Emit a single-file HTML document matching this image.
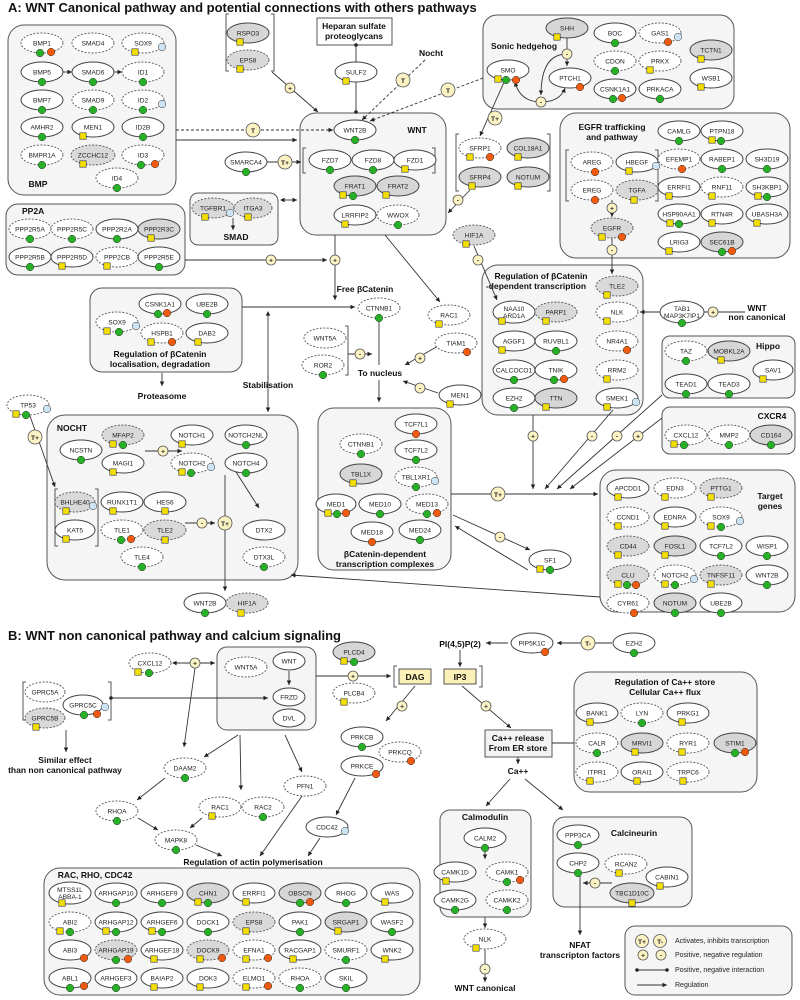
<!DOCTYPE html><html><head><meta charset="utf-8"><style>
body{margin:0;background:#fff}
svg{display:block;font-family:"Liberation Sans",sans-serif}
.s{fill:#fff;stroke:#444;stroke-width:1}
.d{fill:#fff;stroke:#555;stroke-width:.9;stroke-dasharray:2 1.5}
.g{fill:#d6d6d6;stroke:#444;stroke-width:1}
.gd{fill:#d9d9d9;stroke:#555;stroke-width:.9;stroke-dasharray:2 1.5}
text{font-size:6.6px;text-anchor:middle;fill:#222}
.bx{fill:#f5f5f5;stroke:#555;stroke-width:1}
.lb{font-size:8.5px;font-weight:bold;fill:#111}
.tt{font-size:13px;font-weight:bold;text-anchor:start;fill:#111}
.ln{stroke:#333;stroke-width:.9;fill:none}
.dl{stroke:#333;stroke-width:.9;fill:none;stroke-dasharray:3 2}
.br{stroke:#555;stroke-width:1;fill:none}
.sg{fill:#fcf3c4;stroke:#555;stroke-width:.8}
.sgt{font-size:7px;font-weight:bold}
</style></head><body>
<svg width="800" height="1000" viewBox="0 0 800 1000" xmlns="http://www.w3.org/2000/svg">
<defs>
<marker id="a" markerWidth="6" markerHeight="6" refX="5" refY="3" orient="auto"><path d="M0,0.5L5,3L0,5.5z" fill="#222"/></marker>
<marker id="a0" markerWidth="6" markerHeight="6" refX="1" refY="3" orient="auto"><path d="M5,0.5L0,3L5,5.5z" fill="#222"/></marker>
<marker id="dt" markerWidth="5" markerHeight="5" refX="2.5" refY="2.5"><circle cx="2.5" cy="2.5" r="2" fill="#222"/></marker>
<rect id="q" x="-3.2" y="-3.2" width="6.4" height="6.4" fill="#f3e000" stroke="#333" stroke-width=".6"/>
<circle id="G" r="3.8" fill="#25b025" stroke="#333" stroke-width=".5"/>
<circle id="O" r="3.8" fill="#f05a10" stroke="#333" stroke-width=".5"/>
<circle id="B" r="3.8" fill="#cde4f5" stroke="#333" stroke-width=".5"/>
</defs>

<text class="tt" x="8" y="12">A: WNT Canonical pathway and potential connections with others pathways</text>
<text class="tt" x="8" y="640">B: WNT non canonical pathway and calcium signaling</text>

<!-- Boxes A -->
<rect class="bx" x="8" y="25" width="168" height="170" rx="16"/>
<rect class="bx" x="6" y="204" width="179" height="71" rx="12"/>
<rect class="bx" x="190" y="193" width="88" height="52" rx="8"/>
<rect class="bx" x="300" y="113" width="146" height="122" rx="16"/>
<rect class="bx" x="483" y="15" width="251" height="94" rx="14"/>
<rect class="bx" x="560" y="113" width="230" height="145" rx="16"/>
<rect class="bx" x="482" y="265" width="161" height="150" rx="16"/>
<rect class="bx" x="90" y="288" width="152" height="84" rx="12"/>
<rect class="bx" x="47" y="415" width="251" height="165" rx="18"/>
<rect class="bx" x="318" y="408" width="133" height="162" rx="16"/>
<rect class="bx" x="662" y="336" width="133" height="62" rx="8"/>
<rect class="bx" x="662" y="407" width="133" height="47" rx="8"/>
<rect class="bx" x="600" y="470" width="195" height="142" rx="16"/>
<rect x="317" y="18" width="75" height="27" fill="#fff" stroke="#555"/>
<text class="lb" x="354" y="29">Heparan sulfate</text><text class="lb" x="354" y="39">proteoglycans</text>

<!-- Boxes B -->
<rect class="bx" x="217" y="647" width="99" height="83" rx="10"/>
<rect class="bx" x="44" y="868" width="376" height="127" rx="16"/>
<rect class="bx" x="574" y="672" width="183" height="120" rx="16"/>
<rect class="bx" x="440" y="810" width="91" height="107" rx="10"/>
<rect class="bx" x="553" y="817" width="139" height="90" rx="12"/>
<rect class="bx" x="625" y="926" width="167" height="69" rx="10"/>
<rect x="485" y="730" width="67" height="27" fill="#f3f3f3" stroke="#555"/>
<text class="lb" x="518" y="741">Ca++ release</text><text class="lb" x="518" y="751">From ER store</text>
<rect x="399" y="669" width="32" height="15" fill="#fbf0b8" stroke="#555"/><text class="lb" x="415" y="680">DAG</text>
<rect x="444" y="669" width="32" height="15" fill="#fbf0b8" stroke="#555"/><text class="lb" x="460" y="680">IP3</text>

<!-- Brackets -->
<path class="br" d="M229,14h-3v57h3M271,14h3v57h-3"/>
<path class="br" d="M306,148h-3v25h3M432,148h3v25h-3"/>
<path class="br" d="M459,134h-3v57h3M547,134h3v57h-3"/>
<path class="br" d="M569,150h-3v51h3M655,150h3v51h-3"/>
<path class="br" d="M345,326h3v49h-3"/>
<path class="br" d="M58,489h-3v57h3M95,489h3v57h-3"/>
<path class="br" d="M26,682h-3v38h3M108,682h3v38h-3"/>
<path class="br" d="M397,666h-3v21h3M479,666h3v21h-3"/>

<!-- Labels -->
<text class="lb" x="38" y="187">BMP</text>
<text class="lb" x="22" y="214" style="text-anchor:start">PP2A</text>
<text class="lb" x="236" y="240">SMAD</text>
<text class="lb" x="417" y="133">WNT</text>
<text class="lb" x="524" y="49">Sonic hedgehog</text>
<text class="lb" x="431" y="56">Nocht</text>
<text class="lb" x="612" y="130">EGFR trafficking</text><text class="lb" x="612" y="140">and pathway</text>
<text class="lb" x="541" y="279">Regulation of βCatenin</text><text class="lb" x="536" y="289">-dependent transcription</text>
<text class="lb" x="757" y="311">WNT</text><text class="lb" x="757" y="320">non canonical</text>
<text class="lb" x="768" y="349">Hippo</text>
<text class="lb" x="772" y="419">CXCR4</text>
<text class="lb" x="770" y="499">Target</text><text class="lb" x="770" y="509">genes</text>
<text class="lb" x="365" y="292">Free βCatenin</text>
<text class="lb" x="380" y="376">To nucleus</text>
<text class="lb" x="160" y="357">Regulation of βCatenin</text><text class="lb" x="160" y="367">localisation, degradation</text>
<text class="lb" x="162" y="399">Proteasome</text>
<text class="lb" x="268" y="388">Stabilisation</text>
<text class="lb" x="72" y="431">NOCHT</text>
<text class="lb" x="385" y="557">βCatenin-dependent</text><text class="lb" x="385" y="567">transcription complexes</text>
<text class="lb" x="65" y="763">Similar effect</text><text class="lb" x="65" y="773">than non canonical pathway</text>
<text class="lb" x="253" y="865">Regulation of actin polymerisation</text>
<text class="lb" x="95" y="878">RAC, RHO, CDC42</text>
<text class="lb" x="460" y="647">PI(4,5)P(2)</text>
<text class="lb" x="518" y="774">Ca++</text>
<text class="lb" x="665" y="685">Regulation of Ca++ store</text><text class="lb" x="665" y="695">Cellular Ca++ flux</text>
<text class="lb" x="485" y="820">Calmodulin</text>
<text class="lb" x="634" y="836">Calcineurin</text>
<text class="lb" x="485" y="991">WNT canonical</text>
<text class="lb" x="580" y="948">NFAT</text><text class="lb" x="580" y="958">transcripton factors</text>

<!-- Connectors A -->
<line class="ln" x1="176" y1="140" x2="297" y2="140" marker-end="url(#a)"/>
<line class="dl" x1="176" y1="130" x2="333" y2="130" marker-end="url(#a)"/>
<line class="ln" x1="62" y1="72" x2="72" y2="72" marker-end="url(#a)"/>
<line class="ln" x1="113" y1="72" x2="122" y2="72" marker-end="url(#a)"/>
<line class="ln" x1="272" y1="72" x2="318" y2="112" marker-end="url(#a)"/>
<line class="ln" x1="356" y1="45" x2="356" y2="112" marker-start="url(#dt)" marker-end="url(#dt)"/>
<line class="dl" x1="425" y1="60" x2="362" y2="120" marker-end="url(#a)"/>
<line class="dl" x1="483" y1="78" x2="370" y2="121" marker-end="url(#a)"/>
<line class="ln" x1="267" y1="162" x2="301" y2="162" marker-end="url(#a)"/>
<line class="ln" x1="505" y1="80" x2="480" y2="136" marker-end="url(#a)"/>
<line class="ln" x1="470" y1="190" x2="448" y2="213" marker-end="url(#a)"/>
<line class="ln" x1="281" y1="200" x2="297" y2="200" marker-start="url(#a0)" marker-end="url(#a)"/>
<line class="ln" x1="185" y1="260" x2="327" y2="260" marker-end="url(#a)"/>
<line class="ln" x1="335" y1="235" x2="335" y2="300" marker-end="url(#a)"/>
<line class="ln" x1="242" y1="307" x2="355" y2="307" marker-end="url(#a)"/>
<line class="ln" x1="385" y1="235" x2="440" y2="302" marker-end="url(#a)"/>
<line class="ln" x1="379" y1="318" x2="379" y2="365"/>
<line class="ln" x1="379" y1="380" x2="379" y2="402" marker-end="url(#a)"/>
<line class="ln" x1="348" y1="354" x2="372" y2="354" marker-end="url(#a)"/>
<line class="ln" x1="438" y1="346" x2="405" y2="365" marker-end="url(#a)"/>
<line class="ln" x1="438" y1="393" x2="403" y2="381" marker-end="url(#a)"/>
<line class="ln" x1="474" y1="246" x2="497" y2="300" marker-end="url(#a)"/>
<line class="ln" x1="612" y1="238" x2="612" y2="274" marker-end="url(#a)"/>
<line class="ln" x1="745" y1="312" x2="640" y2="312" marker-end="url(#a)"/>
<line class="ln" x1="533" y1="415" x2="533" y2="489" marker-end="url(#a)"/>
<line class="ln" x1="613" y1="410" x2="545" y2="489" marker-end="url(#a)"/>
<line class="ln" x1="662" y1="395" x2="557" y2="489" marker-end="url(#a)"/>
<line class="ln" x1="662" y1="418" x2="570" y2="489" marker-end="url(#a)"/>
<line class="ln" x1="451" y1="494" x2="598" y2="494" marker-end="url(#a)"/>
<line class="ln" x1="453" y1="515" x2="530" y2="550" marker-end="url(#a)"/>
<line class="ln" x1="528" y1="570" x2="455" y2="526" marker-end="url(#a)"/>
<line class="ln" x1="600" y1="597" x2="291" y2="575" marker-end="url(#a)"/>
<line class="ln" x1="162" y1="373" x2="162" y2="386" marker-end="url(#a)"/>
<line class="ln" x1="268" y1="312" x2="268" y2="412" marker-start="url(#a0)" marker-end="url(#a)"/>
<line class="ln" x1="30" y1="416" x2="55" y2="487" marker-end="url(#a)"/>
<line class="ln" x1="145" y1="451" x2="182" y2="451" marker-end="url(#a)"/>
<line class="ln" x1="225" y1="475" x2="225" y2="591" marker-end="url(#a)"/>
<line class="ln" x1="185" y1="523" x2="215" y2="523" marker-end="url(#a)"/>
<line class="ln" x1="236" y1="472" x2="259" y2="508" marker-end="url(#a)"/>
<line class="ln" x1="567" y1="38" x2="567" y2="66" marker-end="url(#a)"/>
<path class="ln" d="M541,102 Q520,102 515,82" marker-end="url(#a)"/>
<path class="ln" d="M541,102 Q560,102 565,88" marker-end="url(#a)"/>
<path class="ln" d="M567,54 Q541,54 541,95" marker-end="url(#a)"/>
<line class="ln" x1="612" y1="200" x2="612" y2="217" marker-end="url(#a)"/>
<line class="ln" x1="233" y1="218" x2="233" y2="230" marker-end="url(#a)"/>

<!-- Connectors B -->
<line class="ln" x1="173" y1="663" x2="215" y2="663" marker-start="url(#a0)" marker-end="url(#a)"/>
<line class="ln" x1="195" y1="668" x2="184" y2="747" marker-end="url(#a)"/>
<line class="ln" x1="111" y1="698" x2="268" y2="698" marker-start="url(#dt)" marker-end="url(#a)"/>
<line class="ln" x1="66" y1="730" x2="66" y2="752" marker-end="url(#a)"/>
<line class="ln" x1="238" y1="735" x2="204" y2="757" marker-end="url(#a)"/>
<line class="ln" x1="240" y1="735" x2="241" y2="790" marker-end="url(#a)"/>
<line class="ln" x1="285" y1="735" x2="302" y2="772" marker-end="url(#a)"/>
<line class="ln" x1="165" y1="778" x2="137" y2="800" marker-end="url(#a)"/>
<line class="ln" x1="138" y1="818" x2="158" y2="830" marker-end="url(#a)"/>
<line class="ln" x1="202" y1="818" x2="190" y2="828" marker-end="url(#a)"/>
<line class="ln" x1="196" y1="845" x2="222" y2="856" marker-end="url(#a)"/>
<line class="ln" x1="302" y1="796" x2="260" y2="856" marker-end="url(#a)"/>
<line class="ln" x1="320" y1="838" x2="308" y2="856" marker-end="url(#a)"/>
<line class="ln" x1="316" y1="676" x2="391" y2="676" marker-end="url(#a)"/>
<line class="ln" x1="415" y1="686" x2="386" y2="721" marker-end="url(#a)"/>
<line class="ln" x1="355" y1="778" x2="336" y2="815" marker-end="url(#a)"/>
<line class="ln" x1="612" y1="643" x2="557" y2="643" marker-end="url(#a)"/>
<line class="ln" x1="508" y1="643" x2="486" y2="643" marker-end="url(#a)"/>
<line class="ln" x1="460" y1="650" x2="460" y2="667" marker-end="url(#a)"/>
<line class="ln" x1="462" y1="686" x2="511" y2="728" marker-end="url(#a)"/>
<line class="ln" x1="552" y1="743" x2="574" y2="743"/>
<line class="ln" x1="518" y1="757" x2="518" y2="764" marker-end="url(#a)"/>
<line class="ln" x1="510" y1="779" x2="486" y2="806" marker-end="url(#a)"/>
<line class="ln" x1="525" y1="779" x2="563" y2="810" marker-end="url(#a)"/>
<line class="ln" x1="485" y1="849" x2="485" y2="859" marker-end="url(#a)"/>
<line class="ln" x1="485" y1="917" x2="485" y2="928" marker-end="url(#a)"/>
<line class="ln" x1="485" y1="949" x2="485" y2="982" marker-end="url(#a)"/>
<line class="ln" x1="580" y1="873" x2="580" y2="935" marker-end="url(#a)"/>
<line class="ln" x1="612" y1="883" x2="583" y2="883" marker-end="url(#a)"/>
<line class="ln" x1="289" y1="671" x2="289" y2="685" marker-end="url(#a)"/>

<!-- Signs -->
<g class="sgt">
<circle class="sg" cx="253" cy="130" r="7"/><text x="253" y="133">T</text>
<circle class="sg" cx="403" cy="80" r="7"/><text x="403" y="83">T</text>
<circle class="sg" cx="448" cy="90" r="7"/><text x="448" y="93">T</text>
<circle class="sg" cx="285" cy="162" r="7"/><text x="285" y="165">T+</text>
<circle class="sg" cx="495" cy="118" r="7"/><text x="495" y="121">T+</text>
<circle class="sg" cx="498" cy="494" r="7"/><text x="498" y="497">T+</text>
<circle class="sg" cx="35" cy="437" r="7"/><text x="35" y="440">T+</text>
<circle class="sg" cx="225" cy="523" r="7"/><text x="225" y="526">T+</text>
<circle class="sg" cx="588" cy="643" r="7"/><text x="588" y="646">T-</text>
<circle class="sg" cx="290" cy="88" r="5"/><text x="290" y="90.5">+</text>
<circle class="sg" cx="567" cy="54" r="5"/><text x="567" y="56.5">-</text>
<circle class="sg" cx="541" cy="102" r="5"/><text x="541" y="104.5">-</text>
<circle class="sg" cx="458" cy="200" r="5"/><text x="458" y="202.5">-</text>
<circle class="sg" cx="478" cy="260" r="5"/><text x="478" y="262.5">-</text>
<circle class="sg" cx="612" cy="208" r="5"/><text x="612" y="210.5">+</text>
<circle class="sg" cx="612" cy="250" r="5"/><text x="612" y="252.5">-</text>
<circle class="sg" cx="271" cy="260" r="5"/><text x="271" y="262.5">+</text>
<circle class="sg" cx="335" cy="260" r="5"/><text x="335" y="262.5">+</text>
<circle class="sg" cx="360" cy="354" r="5"/><text x="360" y="356.5">-</text>
<circle class="sg" cx="420" cy="358" r="5"/><text x="420" y="360.5">+</text>
<circle class="sg" cx="420" cy="388" r="5"/><text x="420" y="390.5">-</text>
<circle class="sg" cx="713" cy="312" r="5"/><text x="713" y="314.5">+</text>
<circle class="sg" cx="533" cy="436" r="5"/><text x="533" y="438.5">+</text>
<circle class="sg" cx="592" cy="436" r="5"/><text x="592" y="438.5">-</text>
<circle class="sg" cx="617" cy="436" r="5"/><text x="617" y="438.5">-</text>
<circle class="sg" cx="638" cy="436" r="5"/><text x="638" y="438.5">+</text>
<circle class="sg" cx="500" cy="537" r="5"/><text x="500" y="539.5">-</text>
<circle class="sg" cx="163" cy="451" r="5"/><text x="163" y="453.5">+</text>
<circle class="sg" cx="202" cy="523" r="5"/><text x="202" y="525.5">-</text>
<circle class="sg" cx="195" cy="663" r="5"/><text x="195" y="665.5">+</text>
<circle class="sg" cx="353" cy="676" r="5"/><text x="353" y="678.5">+</text>
<circle class="sg" cx="402" cy="706" r="5"/><text x="402" y="708.5">+</text>
<circle class="sg" cx="486" cy="706" r="5"/><text x="486" y="708.5">+</text>
<circle class="sg" cx="485" cy="969" r="5"/><text x="485" y="971.5">-</text>
<circle class="sg" cx="595" cy="883" r="5"/><text x="595" y="885.5">-</text>
</g>

<!-- Nodes A -->
<g transform="translate(42,43)"><ellipse class="d" rx="21" ry="10"/><text y="2.5">BMP1</text><use href="#G" x="-2" y="10"/><use href="#O" x="9" y="9"/></g>
<g transform="translate(93,43)"><ellipse class="d" rx="21" ry="10"/><text y="2.5">SMAD4</text></g>
<g transform="translate(143,43)"><ellipse class="d" rx="21" ry="10"/><text y="2.5">SOX9</text><use href="#q" x="-8" y="9"/><use href="#B" x="19" y="4"/></g>
<g transform="translate(42,72)"><ellipse class="s" rx="21" ry="10"/><text y="2.5">BMP5</text><use href="#G" y="10"/></g>
<g transform="translate(93,72)"><ellipse class="s" rx="21" ry="10"/><text y="2.5">SMAD6</text><use href="#G" y="10"/></g>
<g transform="translate(143,72)"><ellipse class="d" rx="21" ry="10"/><text y="2.5">ID1</text><use href="#G" y="10"/></g>
<g transform="translate(42,100)"><ellipse class="s" rx="21" ry="10"/><text y="2.5">BMP7</text><use href="#G" y="10"/></g>
<g transform="translate(93,100)"><ellipse class="d" rx="21" ry="10"/><text y="2.5">SMAD9</text><use href="#G" y="10"/></g>
<g transform="translate(143,100)"><ellipse class="d" rx="21" ry="10"/><text y="2.5">ID2</text><use href="#G" y="10"/><use href="#B" x="19" y="4"/></g>
<g transform="translate(42,127)"><ellipse class="s" rx="21" ry="10"/><text y="2.5">AMHR2</text><use href="#G" y="10"/></g>
<g transform="translate(93,127)"><ellipse class="s" rx="21" ry="10"/><text y="2.5">MEN1</text><use href="#q" x="-10" y="9"/></g>
<g transform="translate(143,127)"><ellipse class="s" rx="21" ry="10"/><text y="2.5">ID2B</text><use href="#G" y="10"/></g>
<g transform="translate(42,155)"><ellipse class="d" rx="21" ry="10"/><text y="2.5">BMPR1A</text><use href="#G" y="10"/></g>
<g transform="translate(93,155)"><ellipse class="gd" rx="22" ry="10"/><text y="2.5">ZCCHC12</text><use href="#q" x="-10" y="9"/></g>
<g transform="translate(143,155)"><ellipse class="d" rx="21" ry="10"/><text y="2.5">ID3</text><use href="#G" x="-2" y="10"/><use href="#O" x="12" y="9"/></g>
<g transform="translate(117,178)"><ellipse class="d" rx="21" ry="10"/><text y="2.5">ID4</text><use href="#G" y="10"/></g>

<g transform="translate(30,229)"><ellipse class="d" rx="21" ry="10"/><text y="2.5">PPP2R5A</text><use href="#G" y="10"/></g>
<g transform="translate(72,229)"><ellipse class="d" rx="21" ry="10"/><text y="2.5">PPP2R5C</text><use href="#G" y="10"/></g>
<g transform="translate(117,229)"><ellipse class="s" rx="21" ry="10"/><text y="2.5">PPP2R2A</text><use href="#G" y="10"/></g>
<g transform="translate(159,229)"><ellipse class="g" rx="21" ry="10"/><text y="2.5">PPP2R3C</text><use href="#q" x="-8" y="9"/></g>
<g transform="translate(30,257)"><ellipse class="s" rx="21" ry="10"/><text y="2.5">PPP2R5B</text><use href="#G" y="10"/></g>
<g transform="translate(72,257)"><ellipse class="s" rx="21" ry="10"/><text y="2.5">PPP2R5D</text><use href="#q" x="-10" y="9"/></g>
<g transform="translate(117,257)"><ellipse class="d" rx="21" ry="10"/><text y="2.5">PPP2CB</text><use href="#q" x="-10" y="9"/></g>
<g transform="translate(159,257)"><ellipse class="s" rx="21" ry="10"/><text y="2.5">PPP2R5E</text><use href="#G" y="10"/></g>

<g transform="translate(248,33)"><ellipse class="g" rx="21" ry="10"/><text y="2.5">RSPO3</text><use href="#q" x="-8" y="9"/></g>
<g transform="translate(248,60)"><ellipse class="gd" rx="21" ry="10"/><text y="2.5">EPS8</text><use href="#q" x="-8" y="9"/></g>
<g transform="translate(356,72)"><ellipse class="s" rx="21" ry="10"/><text y="2.5">SULF2</text><use href="#q" x="-10" y="9"/></g>
<g transform="translate(355,130)"><ellipse class="s" rx="21" ry="10"/><text y="2.5">WNT2B</text><use href="#G" y="10"/></g>
<g transform="translate(246,162)"><ellipse class="s" rx="21" ry="10"/><text y="2.5">SMARCA4</text><use href="#G" y="10"/></g>
<g transform="translate(330,160)"><ellipse class="s" rx="21" ry="10"/><text y="2.5">FZD7</text><use href="#G" y="10"/></g>
<g transform="translate(373,160)"><ellipse class="s" rx="21" ry="10"/><text y="2.5">FZD8</text><use href="#G" y="10"/></g>
<g transform="translate(415,160)"><ellipse class="s" rx="21" ry="10"/><text y="2.5">FZD1</text><use href="#q" x="-10" y="9"/></g>
<g transform="translate(355,186)"><ellipse class="g" rx="21" ry="10"/><text y="2.5">FRAT1</text><use href="#q" x="-12" y="9"/><use href="#G" x="-2" y="10"/></g>
<g transform="translate(398,186)"><ellipse class="g" rx="21" ry="10"/><text y="2.5">FRAT2</text><use href="#q" x="-12" y="9"/></g>
<g transform="translate(355,215)"><ellipse class="s" rx="21" ry="10"/><text y="2.5">LRRFIP2</text><use href="#q" x="-10" y="9"/></g>
<g transform="translate(398,215)"><ellipse class="d" rx="21" ry="10"/><text y="2.5">WWOX</text><use href="#G" y="10"/></g>
<g transform="translate(213,208)"><ellipse class="gd" rx="21" ry="10"/><text y="2.5">TGFBR1</text><use href="#q" x="-8" y="9"/><use href="#B" x="17" y="5"/></g>
<g transform="translate(253,208)"><ellipse class="gd" rx="19" ry="10"/><text y="2.5">ITGA3</text><use href="#q" x="-5" y="9"/></g>

<g transform="translate(567,28)"><ellipse class="g" rx="21" ry="10"/><text y="2.5">SHH</text><use href="#q" x="-10" y="9"/></g>
<g transform="translate(508,70)"><ellipse class="s" rx="21" ry="10"/><text y="2.5">SMO</text><use href="#q" x="-10" y="9"/><use href="#G" x="-2" y="10"/><use href="#O" x="8" y="10"/></g>
<g transform="translate(570,78)"><ellipse class="s" rx="21" ry="10"/><text y="2.5">PTCH1</text><use href="#O" x="10" y="9"/></g>
<g transform="translate(615,33)"><ellipse class="s" rx="21" ry="10"/><text y="2.5">BOC</text><use href="#G" y="10"/></g>
<g transform="translate(660,33)"><ellipse class="d" rx="21" ry="10"/><text y="2.5">GAS1</text><use href="#O" x="8" y="9"/><use href="#B" x="18" y="4"/></g>
<g transform="translate(711,50)"><ellipse class="g" rx="21" ry="10"/><text y="2.5">TCTN1</text><use href="#q" x="-10" y="9"/></g>
<g transform="translate(615,61)"><ellipse class="d" rx="21" ry="10"/><text y="2.5">CDON</text><use href="#G" y="10"/></g>
<g transform="translate(660,61)"><ellipse class="d" rx="21" ry="10"/><text y="2.5">PRKX</text><use href="#q" x="-10" y="9"/></g>
<g transform="translate(711,78)"><ellipse class="s" rx="21" ry="10"/><text y="2.5">WSB1</text><use href="#q" x="-10" y="9"/></g>
<g transform="translate(615,89)"><ellipse class="s" rx="21" ry="10"/><text y="2.5">CSNK1A1</text><use href="#G" x="-2" y="10"/><use href="#O" x="7" y="9"/></g>
<g transform="translate(660,89)"><ellipse class="s" rx="21" ry="10"/><text y="2.5">PRKACA</text><use href="#G" y="10"/></g>

<g transform="translate(480,148)"><ellipse class="d" rx="21" ry="10"/><text y="2.5">SFRP1</text><use href="#q" x="-10" y="9"/><use href="#O" x="10" y="9"/></g>
<g transform="translate(528,148)"><ellipse class="g" rx="21" ry="10"/><text y="2.5">COL18A1</text><use href="#q" x="-10" y="9"/></g>
<g transform="translate(480,177)"><ellipse class="g" rx="21" ry="10"/><text y="2.5">SFRP4</text><use href="#q" x="-8" y="9"/></g>
<g transform="translate(528,177)"><ellipse class="g" rx="21" ry="10"/><text y="2.5">NOTUM</text><use href="#q" x="-10" y="9"/></g>
<g transform="translate(474,235)"><ellipse class="gd" rx="21" ry="10"/><text y="2.5">HIF1A</text><use href="#q" x="-8" y="9"/></g>

<g transform="translate(592,162)"><ellipse class="d" rx="21" ry="10"/><text y="2.5">AREG</text><use href="#O" x="3" y="10"/></g>
<g transform="translate(637,162)"><ellipse class="s" rx="21" ry="10"/><text y="2.5">HBEGF</text><use href="#q" x="-8" y="9"/><use href="#B" x="19" y="4"/></g>
<g transform="translate(592,190)"><ellipse class="d" rx="21" ry="10"/><text y="2.5">EREG</text><use href="#O" x="3" y="10"/></g>
<g transform="translate(637,190)"><ellipse class="gd" rx="21" ry="10"/><text y="2.5">TGFA</text><use href="#q" x="-3" y="10"/></g>
<g transform="translate(612,228)"><ellipse class="gd" rx="21" ry="10"/><text y="2.5">EGFR</text><use href="#q" x="-10" y="9"/><use href="#O" x="10" y="9"/></g>
<g transform="translate(679,131)"><ellipse class="s" rx="21" ry="10"/><text y="2.5">CAMLG</text><use href="#G" y="10"/></g>
<g transform="translate(722,131)"><ellipse class="s" rx="21" ry="10"/><text y="2.5">PTPN18</text><use href="#q" x="-10" y="9"/><use href="#G" x="-1" y="10"/></g>
<g transform="translate(679,159)"><ellipse class="d" rx="21" ry="10"/><text y="2.5">EFEMP1</text><use href="#O" x="3" y="10"/></g>
<g transform="translate(722,159)"><ellipse class="s" rx="21" ry="10"/><text y="2.5">RABEP1</text><use href="#G" y="10"/></g>
<g transform="translate(767,159)"><ellipse class="s" rx="21" ry="10"/><text y="2.5">SH3D19</text><use href="#G" y="10"/></g>
<g transform="translate(679,187)"><ellipse class="s" rx="21" ry="10"/><text y="2.5">ERRFI1</text><use href="#q" x="-10" y="9"/></g>
<g transform="translate(722,187)"><ellipse class="d" rx="21" ry="10"/><text y="2.5">RNF11</text><use href="#q" x="-10" y="9"/></g>
<g transform="translate(767,187)"><ellipse class="s" rx="21" ry="10"/><text y="2.5">SH3KBP1</text><use href="#q" x="-9" y="9"/><use href="#G" x="0" y="10"/></g>
<g transform="translate(679,214)"><ellipse class="s" rx="21" ry="10"/><text y="2.5">HSP90AA1</text><use href="#q" x="-9" y="9"/><use href="#G" x="0" y="10"/></g>
<g transform="translate(722,214)"><ellipse class="s" rx="21" ry="10"/><text y="2.5">RTN4R</text><use href="#q" x="-10" y="9"/></g>
<g transform="translate(767,214)"><ellipse class="s" rx="21" ry="10"/><text y="2.5">UBASH3A</text><use href="#q" x="-10" y="9"/></g>
<g transform="translate(679,242)"><ellipse class="s" rx="21" ry="10"/><text y="2.5">LRIG3</text><use href="#q" x="-10" y="9"/></g>
<g transform="translate(722,242)"><ellipse class="g" rx="21" ry="10"/><text y="2.5">SEC61B</text><use href="#G" x="0" y="10"/><use href="#O" x="10" y="9"/></g>

<g transform="translate(617,286)"><ellipse class="gd" rx="21" ry="10"/><text y="2.5">TLE2</text><use href="#q" x="-10" y="9"/></g>
<g transform="translate(514,312)"><ellipse class="s" rx="21" ry="11"/><text y="-1">NAA10</text><text y="6">ARD1A</text><use href="#q" x="-12" y="9"/></g>
<g transform="translate(556,312)"><ellipse class="gd" rx="21" ry="10"/><text y="2.5">PARP1</text><use href="#q" x="-10" y="9"/></g>
<g transform="translate(617,312)"><ellipse class="d" rx="21" ry="10"/><text y="2.5">NLK</text><use href="#q" x="-10" y="9"/></g>
<g transform="translate(514,341)"><ellipse class="s" rx="21" ry="10"/><text y="2.5">AGGF1</text><use href="#q" x="-12" y="9"/></g>
<g transform="translate(556,341)"><ellipse class="s" rx="21" ry="10"/><text y="2.5">RUVBL1</text><use href="#G" y="10"/></g>
<g transform="translate(617,341)"><ellipse class="d" rx="21" ry="10"/><text y="2.5">NR4A1</text><use href="#O" x="10" y="9"/></g>
<g transform="translate(514,370)"><ellipse class="s" rx="21" ry="10"/><text y="2.5">CALCOCO1</text><use href="#G" y="10"/></g>
<g transform="translate(556,370)"><ellipse class="s" rx="21" ry="10"/><text y="2.5">TNIK</text><use href="#G" x="-2" y="10"/><use href="#O" x="8" y="9"/></g>
<g transform="translate(617,370)"><ellipse class="d" rx="21" ry="10"/><text y="2.5">RRM2</text><use href="#q" x="-10" y="9"/></g>
<g transform="translate(514,398)"><ellipse class="s" rx="21" ry="10"/><text y="2.5">EZH2</text><use href="#G" y="10"/></g>
<g transform="translate(556,398)"><ellipse class="g" rx="21" ry="10"/><text y="2.5">TTN</text><use href="#q" x="-10" y="9"/></g>
<g transform="translate(617,398)"><ellipse class="s" rx="21" ry="10"/><text y="2.5">SMEK1</text><use href="#q" x="-10" y="9"/><use href="#B" x="19" y="4"/></g>
<g transform="translate(682,312)"><ellipse class="s" rx="22" ry="11"/><text y="-1">TAB1</text><text y="6">MAP3K7IP1</text><use href="#G" y="11"/></g>

<g transform="translate(449,315)"><ellipse class="d" rx="21" ry="10"/><text y="2.5">RAC1</text><use href="#q" x="-10" y="9"/></g>
<g transform="translate(456,343)"><ellipse class="d" rx="21" ry="10"/><text y="2.5">TIAM1</text><use href="#O" x="11" y="9"/></g>
<g transform="translate(460,395)"><ellipse class="s" rx="21" ry="10"/><text y="2.5">MEN1</text><use href="#q" x="-10" y="9"/></g>
<g transform="translate(379,308)"><ellipse class="d" rx="21" ry="10"/><text y="2.5">CTNNB1</text><use href="#G" y="10"/></g>
<g transform="translate(325,338)"><ellipse class="d" rx="21" ry="10"/><text y="2.5">WNT5A</text></g>
<g transform="translate(323,365)"><ellipse class="d" rx="21" ry="10"/><text y="2.5">ROR2</text><use href="#G" y="10"/></g>

<g transform="translate(686,351)"><ellipse class="d" rx="21" ry="10"/><text y="2.5">TAZ</text><use href="#G" y="10"/></g>
<g transform="translate(729,351)"><ellipse class="g" rx="21" ry="10"/><text y="2.5">MOBKL2A</text><use href="#q" x="-8" y="9"/></g>
<g transform="translate(773,370)"><ellipse class="s" rx="20" ry="10"/><text y="2.5">SAV1</text><use href="#q" x="-10" y="9"/></g>
<g transform="translate(686,384)"><ellipse class="s" rx="21" ry="10"/><text y="2.5">TEAD1</text><use href="#G" y="10"/></g>
<g transform="translate(729,384)"><ellipse class="s" rx="21" ry="10"/><text y="2.5">TEAD3</text><use href="#G" y="10"/></g>
<g transform="translate(686,435)"><ellipse class="d" rx="21" ry="10"/><text y="2.5">CXCL12</text><use href="#q" x="-12" y="9"/><use href="#G" x="-2" y="10"/></g>
<g transform="translate(729,435)"><ellipse class="d" rx="21" ry="10"/><text y="2.5">MMP2</text><use href="#G" y="10"/></g>
<g transform="translate(771,435)"><ellipse class="g" rx="21" ry="10"/><text y="2.5">CD164</text><use href="#G" y="10"/></g>

<g transform="translate(628,488)"><ellipse class="s" rx="21" ry="10"/><text y="2.5">APCDD1</text><use href="#q" x="-10" y="9"/></g>
<g transform="translate(675,488)"><ellipse class="d" rx="21" ry="10"/><text y="2.5">EDN3</text><use href="#q" x="-10" y="9"/></g>
<g transform="translate(721,488)"><ellipse class="gd" rx="21" ry="10"/><text y="2.5">PTTG1</text><use href="#q" x="-10" y="9"/></g>
<g transform="translate(628,517)"><ellipse class="d" rx="21" ry="10"/><text y="2.5">CCND1</text><use href="#q" x="-10" y="9"/></g>
<g transform="translate(675,517)"><ellipse class="s" rx="21" ry="10"/><text y="2.5">EDNRA</text><use href="#q" x="-10" y="9"/></g>
<g transform="translate(721,517)"><ellipse class="d" rx="21" ry="10"/><text y="2.5">SOX9</text><use href="#q" x="-10" y="9"/><use href="#G" x="0" y="10"/><use href="#B" x="19" y="4"/></g>
<g transform="translate(628,546)"><ellipse class="gd" rx="21" ry="10"/><text y="2.5">CD44</text><use href="#q" x="-10" y="9"/></g>
<g transform="translate(675,546)"><ellipse class="g" rx="21" ry="10"/><text y="2.5">FOSL1</text><use href="#q" x="-10" y="9"/></g>
<g transform="translate(721,546)"><ellipse class="s" rx="21" ry="10"/><text y="2.5">TCF7L2</text><use href="#G" y="10"/></g>
<g transform="translate(767,546)"><ellipse class="s" rx="21" ry="10"/><text y="2.5">WISP1</text><use href="#G" y="10"/></g>
<g transform="translate(628,575)"><ellipse class="gd" rx="21" ry="10"/><text y="2.5">CLU</text><use href="#q" x="-10" y="9"/><use href="#G" x="-1" y="10"/><use href="#O" x="8" y="10"/></g>
<g transform="translate(675,575)"><ellipse class="d" rx="21" ry="10"/><text y="2.5">NOTCH2</text><use href="#q" x="-10" y="9"/><use href="#G" x="0" y="10"/><use href="#B" x="19" y="4"/></g>
<g transform="translate(721,575)"><ellipse class="gd" rx="21" ry="10"/><text y="2.5">TNFSF11</text><use href="#q" x="-10" y="9"/></g>
<g transform="translate(767,575)"><ellipse class="s" rx="21" ry="10"/><text y="2.5">WNT2B</text><use href="#G" y="10"/></g>
<g transform="translate(628,603)"><ellipse class="d" rx="21" ry="10"/><text y="2.5">CYR61</text><use href="#O" x="6" y="10"/></g>
<g transform="translate(675,603)"><ellipse class="g" rx="21" ry="10"/><text y="2.5">NOTUM</text><use href="#G" y="10"/></g>
<g transform="translate(721,603)"><ellipse class="s" rx="21" ry="10"/><text y="2.5">UBE2B</text><use href="#G" y="10"/></g>
<g transform="translate(550,560)"><ellipse class="s" rx="21" ry="10"/><text y="2.5">SF1</text><use href="#q" x="-10" y="9"/><use href="#G" x="0" y="10"/></g>

<g transform="translate(361,444)"><ellipse class="d" rx="21" ry="10"/><text y="2.5">CTNNB1</text><use href="#G" y="10"/></g>
<g transform="translate(416,424)"><ellipse class="s" rx="21" ry="10"/><text y="2.5">TCF7L1</text><use href="#O" x="0" y="10"/></g>
<g transform="translate(416,450)"><ellipse class="s" rx="21" ry="10"/><text y="2.5">TCF7L2</text><use href="#G" y="10"/></g>
<g transform="translate(361,474)"><ellipse class="g" rx="21" ry="10"/><text y="2.5">TBL1X</text><use href="#q" x="-8" y="9"/></g>
<g transform="translate(416,477)"><ellipse class="d" rx="21" ry="10"/><text y="2.5">TBL1XR1</text><use href="#G" y="10"/><use href="#B" x="19" y="4"/></g>
<g transform="translate(336,504)"><ellipse class="s" rx="20" ry="10"/><text y="2.5">MED1</text><use href="#q" x="-8" y="9"/><use href="#G" x="1" y="10"/><use href="#O" x="10" y="9"/></g>
<g transform="translate(380,504)"><ellipse class="s" rx="21" ry="10"/><text y="2.5">MED10</text><use href="#G" y="10"/></g>
<g transform="translate(427,504)"><ellipse class="d" rx="21" ry="10"/><text y="2.5">MED13</text><use href="#G" x="0" y="10"/><use href="#O" x="10" y="9"/></g>
<g transform="translate(372,532)"><ellipse class="s" rx="21" ry="10"/><text y="2.5">MED18</text><use href="#O" y="10"/></g>
<g transform="translate(420,530)"><ellipse class="s" rx="21" ry="10"/><text y="2.5">MED24</text><use href="#G" y="10"/></g>

<g transform="translate(160,304)"><ellipse class="s" rx="21" ry="10"/><text y="2.5">CSNK1A1</text><use href="#G" x="-2" y="10"/><use href="#O" x="7" y="9"/></g>
<g transform="translate(207,304)"><ellipse class="s" rx="21" ry="10"/><text y="2.5">UBE2B</text><use href="#G" y="10"/></g>
<g transform="translate(117,322)"><ellipse class="d" rx="21" ry="10"/><text y="2.5">SOX9</text><use href="#q" x="-10" y="9"/><use href="#G" x="2" y="10"/><use href="#B" x="19" y="4"/></g>
<g transform="translate(162,333)"><ellipse class="d" rx="21" ry="10"/><text y="2.5">HSPB1</text><use href="#q" x="-11" y="9"/><use href="#O" x="10" y="9"/></g>
<g transform="translate(207,333)"><ellipse class="s" rx="21" ry="10"/><text y="2.5">DAB2</text><use href="#q" x="-9" y="9"/></g>

<g transform="translate(28,405)"><ellipse class="d" rx="21" ry="10"/><text y="2.5">TP53</text><use href="#q" x="-12" y="9"/><use href="#G" x="-2" y="10"/><use href="#B" x="19" y="4"/></g>
<g transform="translate(81,450)"><ellipse class="s" rx="21" ry="10"/><text y="2.5">NCSTN</text><use href="#G" y="10"/></g>
<g transform="translate(123,435)"><ellipse class="gd" rx="21" ry="10"/><text y="2.5">MFAP2</text><use href="#q" x="-10" y="9"/><use href="#G" x="0" y="10"/></g>
<g transform="translate(123,463)"><ellipse class="s" rx="21" ry="10"/><text y="2.5">MAGI1</text><use href="#q" x="-10" y="9"/></g>
<g transform="translate(192,435)"><ellipse class="s" rx="21" ry="10"/><text y="2.5">NOTCH1</text><use href="#q" x="-10" y="9"/></g>
<g transform="translate(246,435)"><ellipse class="s" rx="21" ry="10"/><text y="2.5">NOTCH2NL</text><use href="#G" y="10"/></g>
<g transform="translate(192,463)"><ellipse class="d" rx="21" ry="10"/><text y="2.5">NOTCH2</text><use href="#q" x="-10" y="9"/><use href="#G" x="-1" y="10"/><use href="#B" x="19" y="4"/></g>
<g transform="translate(246,463)"><ellipse class="s" rx="21" ry="10"/><text y="2.5">NOTCH4</text><use href="#G" y="10"/></g>
<g transform="translate(75,502)"><ellipse class="gd" rx="20" ry="10"/><text y="2.5">BHLHE40</text><use href="#q" x="-9" y="9"/><use href="#B" x="18" y="4"/></g>
<g transform="translate(75,530)"><ellipse class="s" rx="20" ry="10"/><text y="2.5">KAT5</text><use href="#q" x="-9" y="9"/></g>
<g transform="translate(122,502)"><ellipse class="s" rx="21" ry="10"/><text y="2.5">RUNX1T1</text><use href="#q" x="-9" y="9"/></g>
<g transform="translate(165,502)"><ellipse class="s" rx="21" ry="10"/><text y="2.5">HES6</text><use href="#q" x="0" y="9"/></g>
<g transform="translate(122,530)"><ellipse class="d" rx="21" ry="10"/><text y="2.5">TLE1</text><use href="#G" x="-1" y="10"/><use href="#O" x="9" y="9"/></g>
<g transform="translate(165,530)"><ellipse class="gd" rx="21" ry="10"/><text y="2.5">TLE2</text><use href="#q" x="0" y="10"/></g>
<g transform="translate(142,557)"><ellipse class="d" rx="21" ry="10"/><text y="2.5">TLE4</text><use href="#G" y="10"/></g>
<g transform="translate(264,530)"><ellipse class="s" rx="21" ry="10"/><text y="2.5">DTX2</text></g>
<g transform="translate(264,557)"><ellipse class="d" rx="21" ry="10"/><text y="2.5">DTX3L</text><use href="#G" y="10"/></g>
<g transform="translate(205,603)"><ellipse class="s" rx="21" ry="10"/><text y="2.5">WNT2B</text><use href="#G" y="10"/></g>
<g transform="translate(247,603)"><ellipse class="gd" rx="21" ry="10"/><text y="2.5">HIF1A</text><use href="#q" x="-6" y="10"/></g>

<!-- Nodes B -->
<g transform="translate(150,663)"><ellipse class="d" rx="21" ry="10"/><text y="2.5">CXCL12</text><use href="#q" x="-12" y="9"/><use href="#G" x="-1" y="10"/></g>
<g transform="translate(246,667)"><ellipse class="d" rx="21" ry="10"/><text y="2.5">WNT5A</text></g>
<g transform="translate(289,661)"><ellipse class="s" rx="16" ry="9"/><text y="2.5">WNT</text></g>
<g transform="translate(289,697)"><ellipse class="s" rx="16" ry="9"/><text y="2.5">FRZD</text></g>
<g transform="translate(289,718)"><ellipse class="s" rx="16" ry="9"/><text y="2.5">DVL</text></g>
<g transform="translate(45,692)"><ellipse class="d" rx="20" ry="10"/><text y="2.5">GPRC5A</text></g>
<g transform="translate(45,718)"><ellipse class="gd" rx="20" ry="10"/><text y="2.5">GPRC5B</text><use href="#q" x="-9" y="9"/></g>
<g transform="translate(83,705)"><ellipse class="s" rx="20" ry="10"/><text y="2.5">GPRC5C</text><use href="#G" x="1" y="10"/><use href="#O" x="14" y="9"/><use href="#B" x="22" y="2"/></g>
<g transform="translate(185,768)"><ellipse class="d" rx="21" ry="10"/><text y="2.5">DAAM2</text><use href="#G" y="10"/></g>
<g transform="translate(305,786)"><ellipse class="d" rx="21" ry="10"/><text y="2.5">PFN1</text></g>
<g transform="translate(117,811)"><ellipse class="d" rx="21" ry="10"/><text y="2.5">RHOA</text><use href="#G" y="10"/></g>
<g transform="translate(220,807)"><ellipse class="d" rx="21" ry="10"/><text y="2.5">RAC1</text><use href="#q" x="-8" y="9"/></g>
<g transform="translate(263,807)"><ellipse class="d" rx="21" ry="10"/><text y="2.5">RAC2</text><use href="#G" y="10"/></g>
<g transform="translate(176,840)"><ellipse class="d" rx="21" ry="10"/><text y="2.5">MAPK8</text><use href="#G" y="10"/></g>
<g transform="translate(354,652)"><ellipse class="g" rx="21" ry="10"/><text y="2.5">PLCD4</text><use href="#q" x="-10" y="9"/><use href="#G" x="0" y="10"/></g>
<g transform="translate(354,693)"><ellipse class="d" rx="21" ry="10"/><text y="2.5">PLCB4</text><use href="#q" x="-10" y="9"/></g>
<g transform="translate(362,737)"><ellipse class="s" rx="21" ry="10"/><text y="2.5">PRKCB</text><use href="#G" y="10"/></g>
<g transform="translate(400,752)"><ellipse class="d" rx="21" ry="10"/><text y="2.5">PRKCQ</text><use href="#O" x="11" y="9"/></g>
<g transform="translate(362,766)"><ellipse class="s" rx="21" ry="10"/><text y="2.5">PRKCE</text><use href="#O" x="14" y="8"/></g>
<g transform="translate(327,827)"><ellipse class="s" rx="21" ry="10"/><text y="2.5">CDC42</text><use href="#B" x="18" y="4"/></g>

<g transform="translate(70,893)"><ellipse class="s" rx="21" ry="11"/><text y="-1">MTSS1L</text><text y="6">ABBA-1</text><use href="#q" x="-8" y="10"/></g>
<g transform="translate(116,893)"><ellipse class="s" rx="21" ry="10"/><text y="2.5">ARHGAP10</text><use href="#G" y="10"/></g>
<g transform="translate(162,893)"><ellipse class="s" rx="21" ry="10"/><text y="2.5">ARHGEF9</text><use href="#G" y="10"/></g>
<g transform="translate(208,893)"><ellipse class="g" rx="21" ry="10"/><text y="2.5">CHN1</text><use href="#q" x="-10" y="9"/><use href="#G" x="0" y="10"/></g>
<g transform="translate(254,893)"><ellipse class="s" rx="21" ry="10"/><text y="2.5">ERRFI1</text><use href="#q" x="-8" y="9"/></g>
<g transform="translate(300,893)"><ellipse class="g" rx="21" ry="10"/><text y="2.5">OBSCN</text><use href="#G" x="0" y="10"/><use href="#O" x="10" y="9"/></g>
<g transform="translate(346,893)"><ellipse class="s" rx="21" ry="10"/><text y="2.5">RHOG</text><use href="#G" y="10"/></g>
<g transform="translate(392,893)"><ellipse class="s" rx="21" ry="10"/><text y="2.5">WAS</text><use href="#q" x="-7" y="9"/></g>
<g transform="translate(70,922)"><ellipse class="d" rx="21" ry="10"/><text y="2.5">ABI2</text><use href="#q" x="-10" y="9"/><use href="#G" x="0" y="10"/></g>
<g transform="translate(116,922)"><ellipse class="s" rx="21" ry="10"/><text y="2.5">ARHGAP12</text><use href="#q" x="-10" y="9"/><use href="#G" x="0" y="10"/></g>
<g transform="translate(162,922)"><ellipse class="s" rx="21" ry="10"/><text y="2.5">ARHGEF6</text><use href="#q" x="-10" y="9"/><use href="#G" x="0" y="10"/></g>
<g transform="translate(208,922)"><ellipse class="s" rx="21" ry="10"/><text y="2.5">DOCK1</text><use href="#G" y="10"/></g>
<g transform="translate(254,922)"><ellipse class="gd" rx="21" ry="10"/><text y="2.5">EPS8</text><use href="#q" x="-8" y="9"/></g>
<g transform="translate(300,922)"><ellipse class="s" rx="21" ry="10"/><text y="2.5">PAK1</text><use href="#G" y="10"/></g>
<g transform="translate(346,922)"><ellipse class="g" rx="21" ry="10"/><text y="2.5">SRGAP1</text><use href="#q" x="-8" y="9"/></g>
<g transform="translate(392,922)"><ellipse class="s" rx="21" ry="10"/><text y="2.5">WASF2</text><use href="#G" y="10"/></g>
<g transform="translate(70,950)"><ellipse class="s" rx="21" ry="10"/><text y="2.5">ABI3</text><use href="#O" x="14" y="8"/></g>
<g transform="translate(116,950)"><ellipse class="gd" rx="21" ry="10"/><text y="2.5">ARHGAP19</text><use href="#G" x="0" y="10"/><use href="#O" x="12" y="9"/></g>
<g transform="translate(162,950)"><ellipse class="s" rx="21" ry="10"/><text y="2.5">ARHGEF18</text><use href="#q" x="-8" y="9"/></g>
<g transform="translate(208,950)"><ellipse class="gd" rx="21" ry="10"/><text y="2.5">DOCK9</text><use href="#q" x="-8" y="9"/><use href="#O" x="14" y="8"/></g>
<g transform="translate(254,950)"><ellipse class="d" rx="21" ry="10"/><text y="2.5">EFNA1</text><use href="#q" x="-8" y="9"/><use href="#O" x="14" y="8"/></g>
<g transform="translate(300,950)"><ellipse class="s" rx="21" ry="10"/><text y="2.5">RACGAP1</text><use href="#q" x="-7" y="9"/></g>
<g transform="translate(346,950)"><ellipse class="d" rx="21" ry="10"/><text y="2.5">SMURF1</text><use href="#G" y="10"/></g>
<g transform="translate(392,950)"><ellipse class="s" rx="21" ry="10"/><text y="2.5">WNK2</text><use href="#q" x="-7" y="9"/></g>
<g transform="translate(70,978)"><ellipse class="s" rx="21" ry="10"/><text y="2.5">ABL1</text><use href="#G" x="0" y="10"/><use href="#O" x="14" y="8"/></g>
<g transform="translate(116,978)"><ellipse class="s" rx="21" ry="10"/><text y="2.5">ARHGEF3</text><use href="#G" y="10"/></g>
<g transform="translate(162,978)"><ellipse class="s" rx="21" ry="10"/><text y="2.5">BAIAP2</text><use href="#q" x="-8" y="9"/></g>
<g transform="translate(208,978)"><ellipse class="s" rx="21" ry="10"/><text y="2.5">DOK3</text><use href="#q" x="-8" y="9"/></g>
<g transform="translate(254,978)"><ellipse class="d" rx="21" ry="10"/><text y="2.5">ELMO1</text><use href="#q" x="-8" y="9"/><use href="#O" x="14" y="8"/></g>
<g transform="translate(300,978)"><ellipse class="d" rx="21" ry="10"/><text y="2.5">RHOA</text><use href="#G" y="10"/></g>
<g transform="translate(346,978)"><ellipse class="s" rx="21" ry="10"/><text y="2.5">SKIL</text><use href="#G" y="10"/></g>

<g transform="translate(532,643)"><ellipse class="s" rx="21" ry="10"/><text y="2.5">PIP5K1C</text><use href="#O" x="13" y="9"/></g>
<g transform="translate(634,643)"><ellipse class="s" rx="21" ry="10"/><text y="2.5">EZH2</text><use href="#G" y="10"/></g>
<g transform="translate(597,713)"><ellipse class="s" rx="21" ry="10"/><text y="2.5">BANK1</text><use href="#q" x="-7" y="9"/></g>
<g transform="translate(642,713)"><ellipse class="d" rx="21" ry="10"/><text y="2.5">LYN</text><use href="#G" y="10"/></g>
<g transform="translate(688,713)"><ellipse class="s" rx="21" ry="10"/><text y="2.5">PRKG1</text><use href="#q" x="-6" y="9"/></g>
<g transform="translate(597,743)"><ellipse class="d" rx="21" ry="10"/><text y="2.5">CALR</text><use href="#G" y="10"/></g>
<g transform="translate(642,743)"><ellipse class="g" rx="21" ry="10"/><text y="2.5">MRVI1</text><use href="#q" x="-7" y="9"/></g>
<g transform="translate(688,743)"><ellipse class="d" rx="21" ry="10"/><text y="2.5">RYR1</text><use href="#q" x="-6" y="9"/></g>
<g transform="translate(735,743)"><ellipse class="g" rx="21" ry="10"/><text y="2.5">STIM1</text><use href="#G" x="0" y="10"/><use href="#O" x="10" y="9"/></g>
<g transform="translate(597,772)"><ellipse class="d" rx="21" ry="10"/><text y="2.5">ITPR1</text><use href="#q" x="-7" y="9"/></g>
<g transform="translate(642,772)"><ellipse class="s" rx="21" ry="10"/><text y="2.5">ORAI1</text><use href="#q" x="-5" y="9"/></g>
<g transform="translate(688,772)"><ellipse class="d" rx="21" ry="10"/><text y="2.5">TRPC6</text><use href="#q" x="-5" y="9"/></g>
<g transform="translate(485,838)"><ellipse class="s" rx="21" ry="10"/><text y="2.5">CALM2</text><use href="#G" y="10"/></g>
<g transform="translate(455,872)"><ellipse class="s" rx="21" ry="10"/><text y="2.5">CAMK1D</text><use href="#q" x="-9" y="9"/></g>
<g transform="translate(507,872)"><ellipse class="d" rx="21" ry="10"/><text y="2.5">CAMK1</text><use href="#G" x="0" y="10"/><use href="#O" x="13" y="8"/></g>
<g transform="translate(455,900)"><ellipse class="s" rx="21" ry="10"/><text y="2.5">CAMK2G</text><use href="#G" y="10"/></g>
<g transform="translate(507,900)"><ellipse class="d" rx="21" ry="10"/><text y="2.5">CAMKK2</text><use href="#G" y="10"/></g>
<g transform="translate(485,939)"><ellipse class="d" rx="21" ry="10"/><text y="2.5">NLK</text><use href="#q" x="-9" y="9"/></g>
<g transform="translate(578,835)"><ellipse class="s" rx="21" ry="10"/><text y="2.5">PPP3CA</text><use href="#G" y="10"/></g>
<g transform="translate(578,863)"><ellipse class="s" rx="21" ry="10"/><text y="2.5">CHP2</text><use href="#G" y="10"/></g>
<g transform="translate(626,864)"><ellipse class="d" rx="21" ry="10"/><text y="2.5">RCAN2</text><use href="#q" x="-7" y="9"/></g>
<g transform="translate(632,893)"><ellipse class="g" rx="22" ry="10"/><text y="2.5">TBC1D10C</text><use href="#q" x="0" y="10"/></g>
<g transform="translate(667,877)"><ellipse class="s" rx="21" ry="10"/><text y="2.5">CABIN1</text><use href="#q" x="-7" y="9"/></g>

<!-- Legend -->
<g class="sgt">
<circle class="sg" cx="642" cy="941" r="6.5"/><text x="642" y="944">T+</text>
<circle class="sg" cx="660" cy="941" r="6.5"/><text x="660" y="944">T-</text>
<circle class="sg" cx="643" cy="955" r="5"/><text x="643" y="957.5">+</text>
<circle class="sg" cx="661" cy="955" r="5"/><text x="661" y="957.5">-</text>
</g>
<text x="675" y="943" style="text-anchor:start;font-size:7px">Activates, inhibits  transcription</text>
<text x="675" y="957" style="text-anchor:start;font-size:7px">Positive, negative regulation</text>
<line class="ln" x1="637" y1="970" x2="667" y2="970" marker-start="url(#dt)" marker-end="url(#dt)"/>
<text x="675" y="972" style="text-anchor:start;font-size:7px">Positive, negative interaction</text>
<line class="ln" x1="637" y1="985" x2="667" y2="985" marker-end="url(#a)"/>
<text x="675" y="987" style="text-anchor:start;font-size:7px">Regulation</text>
</svg>
</body></html>
